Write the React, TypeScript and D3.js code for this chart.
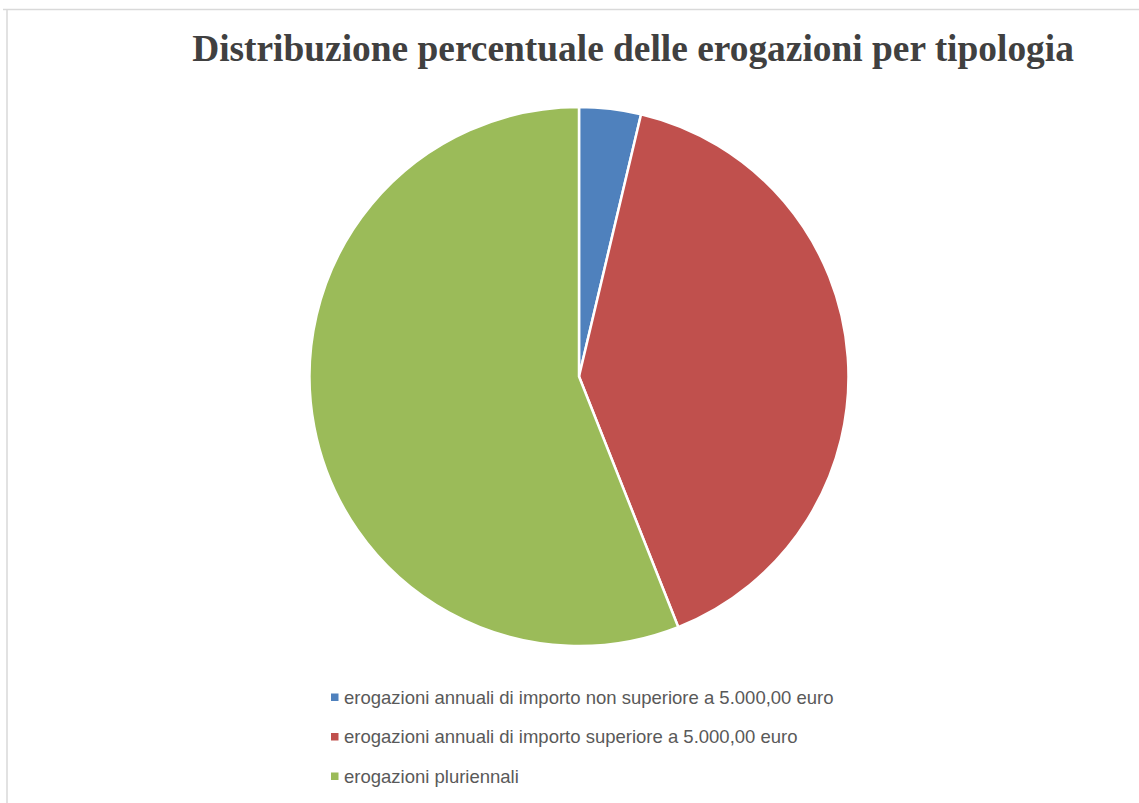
import React from "react";
import * as d3 from "d3";

const categories = [
  "erogazioni annuali di importo non superiore a 5.000,00 euro",
  "erogazioni annuali di importo superiore a 5.000,00 euro",
  "erogazioni pluriennali",
];
const values = [3.7, 40.3, 56.0];
const colors = ["#4f81bd", "#c0504d", "#9bbb59"];
const title = "Distribuzione percentuale delle erogazioni per tipologia";

export default function App() {
  const W = 1139, H = 803;
  const cx = 579, cy = 376.5, r = 269.5;
  const pie = d3.pie<number>().sort(null).value((d) => d)(values);
  const arc = d3.arc<d3.PieArcDatum<number>>().innerRadius(0).outerRadius(r);
  return (
    <svg width={W} height={H} style={{ position: "fixed", left: 0, top: 0, background: "#fff" }}>
      <rect x={0} y={0} width={W} height={H} fill="#fff" />
      <line x1={3} x2={W} y1={9.5} y2={9.5} stroke="#d9d9d9" strokeWidth={1.5} />
      <line x1={7} x2={7} y1={9} y2={H} stroke="#d9d9d9" strokeWidth={1.5} />
      <text x={633} y={61} textAnchor="middle" fontFamily="'Liberation Serif', 'Times New Roman', serif" fontWeight="bold" fontSize={37.4} fill="#404040">
        {title}
      </text>
      <g transform={`translate(${cx},${cy})`}>
        {pie.map((p, i) => (
          <path key={i} d={arc(p) || ""} fill={colors[i]} stroke="#fff" strokeWidth={2.5} strokeLinejoin="round" />
        ))}
      </g>
      {categories.map((c, i) => (
        <g key={c} transform={`translate(331, ${697 + i * 39.5})`}>
          <rect x={0} y={-3.5} width={7.5} height={7.5} fill={colors[i]} />
          <text x={13} y={6.5} fontFamily="'Liberation Sans', sans-serif" fontSize={18.5} fill="#595959">
            {c}
          </text>
        </g>
      ))}
    </svg>
  );
}
